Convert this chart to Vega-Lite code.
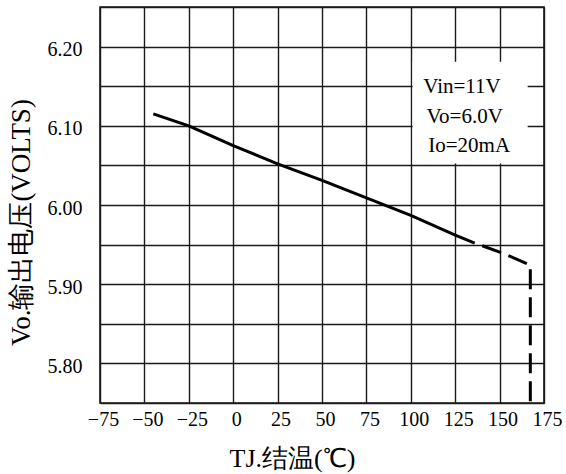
{
  "$schema": "https://vega.github.io/schema/vega-lite/v6.json",
  "width": 444,
  "height": 396,
  "autosize": "none",
  "padding": {"left": 100, "top": 7, "right": 22, "bottom": 71},
  "background": "white",
  "config": {
    "view": {"stroke": "#1a1a1a", "strokeWidth": 1.6},
    "axis": {
      "gridColor": "#1a1a1a",
      "gridWidth": 1.4,
      "gridOpacity": 1,
      "ticks": false,
      "domain": false,
      "labelOverlap": false,
      "labelFlush": false,
      "labelColor": "#000000",
      "titleFontWeight": "normal",
      "titleColor": "#000000"
    }
  },
  "datasets": {
    "solid": [
      {"T": -45, "V": 6.115},
      {"T": -25, "V": 6.100},
      {"T": 0, "V": 6.075},
      {"T": 25, "V": 6.052},
      {"T": 50, "V": 6.031},
      {"T": 75, "V": 6.009},
      {"T": 100, "V": 5.987},
      {"T": 125, "V": 5.962},
      {"T": 136, "V": 5.952}
    ],
    "dashed": [
      {"i": 1, "T": 136, "V": 5.952},
      {"i": 2, "T": 152, "V": 5.939},
      {"i": 3, "T": 167.3, "V": 5.924},
      {"i": 4, "T": 167.3, "V": 5.75}
    ],
    "box": [
      {"x1": 101, "x2": 165.8, "y1": 6.0525, "y2": 6.181}
    ],
    "notes": [
      {"T": 107, "V": 6.149, "label": "Vin=11V"},
      {"T": 108.9, "V": 6.111, "label": "Vo=6.0V"},
      {"T": 109.8, "V": 6.075, "label": "Io=20mA"}
    ]
  },
  "resolve": {"axis": {"y": "independent"}},
  "layer": [
    {
      "data": {"name": "solid"},
      "mark": {"type": "line", "color": "#000000", "strokeWidth": 3},
      "encoding": {
        "x": {
          "field": "T",
          "type": "quantitative",
          "scale": {"domain": [-75, 175], "nice": false, "zero": false},
          "axis": {
            "grid": true,
            "values": [-75, -50, -25, 0, 25, 50, 75, 100, 125, 150, 175],
            "labelFont": "Liberation Serif",
            "labelFontSize": 20,
            "labelPadding": 6,
            "labelOffset": 3,
            "title": "TJ.结温(℃)",
            "titleFont": "Liberation Serif",
            "titleFontSize": 26,
            "titleX": 192,
            "titleY": 55,
            "titleBaseline": "middle",
            "titleAlign": "center"
          }
        },
        "y": {
          "field": "V",
          "type": "quantitative",
          "scale": {"domain": [5.75, 6.25], "nice": false, "zero": false},
          "axis": {
            "grid": true,
            "orient": "left",
            "values": [5.75, 5.8, 5.85, 5.9, 5.95, 6.0, 6.05, 6.1, 6.15, 6.2, 6.25],
            "labels": false,
            "title": null
          }
        }
      }
    },
    {
      "data": {"name": "dashed"},
      "mark": {"type": "line", "color": "#000000", "strokeWidth": 3, "strokeDash": [20, 8], "strokeDashOffset": 20},
      "encoding": {
        "x": {"field": "T", "type": "quantitative"},
        "y": {
          "field": "V",
          "type": "quantitative",
          "axis": {
            "grid": false,
            "orient": "left",
            "values": [5.8, 5.9, 6.0, 6.1, 6.2],
            "format": ".2f",
            "labelFont": "Liberation Serif",
            "labelFontSize": 20,
            "labelPadding": 18,
            "labelOffset": 3,
            "title": "Vo.输出电压(VOLTS)",
            "titleFont": "Liberation Serif",
            "titleFontSize": 27,
            "titleAngle": -90,
            "titleX": -79,
            "titleY": 215,
            "titleBaseline": "middle",
            "titleAlign": "center"
          }
        },
        "order": {"field": "i", "type": "quantitative"}
      }
    },
    {
      "data": {"name": "box"},
      "mark": {"type": "rect", "fill": "white"},
      "encoding": {
        "x": {"field": "x1", "type": "quantitative"},
        "x2": {"field": "x2"},
        "y": {"field": "y1", "type": "quantitative", "axis": null},
        "y2": {"field": "y2"}
      }
    },
    {
      "data": {"name": "notes"},
      "mark": {"type": "text", "align": "left", "baseline": "middle", "font": "Liberation Serif", "fontSize": 21, "color": "#000000"},
      "encoding": {
        "x": {"field": "T", "type": "quantitative"},
        "y": {"field": "V", "type": "quantitative", "axis": null},
        "text": {"field": "label"}
      }
    }
  ]
}
